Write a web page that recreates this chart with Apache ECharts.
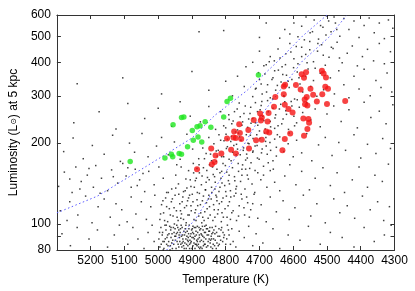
<!DOCTYPE html>
<html><head><meta charset="utf-8">
<script src="https://cdn.jsdelivr.net/npm/echarts@6/dist/echarts.min.js"></script>
<style>html,body{margin:0;padding:0;background:#fff}#c{width:415px;height:291px}</style>
</head><body><div id="c"></div>
<script>
// Temperature axis (K), reversed
const tempMin = 4300, tempMax = 5300, tempStep = 100;
// Luminosity axis ticks (log scale)
const lumTicks = [80, 90, 100, 200, 300, 400, 500, 600];
const lumLabels = [80, 100, 200, 300, 400, 500, 600];

// Field stars [T, L]
const fieldStars = [
[4995,82],[4988,91],[4982,86],[4977,95],[4971,83],[4966,98],[4962,89],[4958,81],[4953,93],[4949,87],[4945,99],[4941,84],[4938,91],[4934,96],[4930,82],[4927,88],[4924,94],[4921,85],[4918,99],[4915,90],[4912,83],[4909,96],[4906,87],[4903,92],[4900,81],[4897,98],[4894,85],[4891,90],[4888,94],[4885,83],[4882,88],[4879,97],[4876,86],[4873,92],[4870,81],[4867,95],[4864,89],[4861,84],[4858,99],[4855,91],[4852,86],[4848,94],[4844,82],[4840,97],[4836,88],[4832,92],[4826,85],[4820,96],
[4992,97],[4985,80],[4974,89],[4968,92],[4960,85],[4955,97],[4947,81],[4943,93],[4936,86],[4932,99],[4925,83],[4919,93],[4913,87],[4907,81],[4901,95],[4896,89],[4890,84],[4884,98],[4878,91],[4872,87],[4866,83],[4860,93],[4854,96],[4849,88],[4843,90],[4837,84],[4830,98],[4823,90],[4815,87],[4808,93],
[4998,88],[4980,99],[4964,83],[4951,90],[4939,95],[4928,91],[4917,81],[4910,92],[4904,85],[4898,93],[4893,97],[4886,87],[4880,82],[4874,96],[4868,90],[4862,98],[4857,82],[4846,85],[4838,93],[4828,81],[4812,97],[4800,84],[4790,91],[4782,96],
[4991,84],[4987,93],[4983,81],[4979,88],[4976,99],[4972,91],[4969,86],[4965,80],[4963,95],[4959,92],[4957,87],[4954,84],[4950,96],[4948,90],[4944,86],[4942,97],[4939,82],[4937,89],[4935,93],[4933,84],[4931,90],[4929,97],[4926,86],[4923,81],[4922,91],[4920,96],[4918,88],[4916,84],[4914,94],[4911,89],[4908,99],[4907,84],[4905,90],[4902,86],[4899,96],[4897,83],[4895,92],[4893,88],[4891,81],[4889,97],[4887,91],[4884,86],[4883,93],[4881,84],[4878,89],[4877,95],[4874,82],[4871,91],[4869,98],[4866,86],[4863,93],[4859,88],[4857,96],[4853,83],[4851,91],[4847,97],[4845,87],[4841,92],[4839,81],[4835,95],[4831,87],[4827,93],[4822,83],[4818,90],[4814,95],[4809,86],[4804,91],[4797,88],[4792,95],[4786,84],
[4996,93],[4986,86],[4975,84],[4962,97],[4946,92],[4929,85],[4911,86],[4900,89],[4887,84],[4877,81],[4863,84],[4850,94],[4842,88],[4833,83],[4819,84],[4806,89],
[5090,84],[5075,97],[5060,88],[5042,81],[5030,93],[5018,99],[5012,86],
[5285,92],[5260,83],[5240,97],[5205,88],[5180,95],[5150,82],[5130,91],[5115,99],
[4795,99],[4778,86],[4770,82],[4760,94],[4745,89],[4732,98],[4720,83],[4710,92],
[4690,85],[4660,96],[4640,81],[4615,91],[4580,87],[4555,98],[4520,84],[4490,93],[4455,89],[4420,82],[4390,97],[4360,86],[4330,91],[4310,99],
[4995,104],[4990,118],[4984,110],[4978,125],[4972,102],[4967,114],[4961,121],[4956,107],[4950,128],[4946,112],[4941,103],[4936,119],[4931,109],[4927,126],[4922,115],[4917,101],[4913,122],[4908,108],[4903,117],[4899,129],[4894,104],[4889,113],[4885,123],[4880,107],[4875,118],[4871,101],[4866,127],[4862,111],[4857,120],[4852,105],[4848,116],[4843,124],[4838,103],[4834,113],[4829,128],[4824,109],[4819,119],[4813,102],[4808,125],[4802,114],[4796,106],[4789,121],[4782,110],[4775,127],[4768,103],[4760,117],[4752,124],[4744,108],[4735,120],[4726,113],[4716,129],[4705,105],
[4952,100],[4933,105],[4910,125],[4891,110],[4868,106],[4850,128],[4826,122],[4811,110],[4798,127],[4786,104],
[4993,109],[4986,122],[4981,103],[4975,116],[4970,131],[4964,108],[4958,124],[4953,115],[4948,136],[4944,106],[4939,129],[4934,112],[4929,121],[4925,104],[4920,133],[4916,117],[4912,108],[4907,128],[4902,112],[4897,121],[4893,137],[4888,103],[4883,117],[4878,130],[4874,110],[4869,122],[4864,103],[4860,134],[4855,114],[4851,124],[4846,108],[4841,131],[4836,118],[4832,106],[4827,126],[4822,113],[4817,137],[4812,121],[4807,106],[4800,132],[4793,117],[4785,126],[4778,112],[4770,135],[4762,107],[4754,129],[4746,115],[4738,126],[4730,106],[4720,119],
[5290,112],[5270,103],[5262,121],[5238,108],[5215,127],[5196,101],[5178,116],[5160,124],[5142,106],[5125,119],[5108,113],[5092,102],[5080,126],[5066,109],[5050,121],[5035,104],[5022,116],[5010,128],
[4695,118],[4680,102],[4668,126],[4650,111],[4630,122],[4612,104],[4595,115],[4570,128],[4548,107],[4530,119],[4505,101],[4480,124],[4462,110],[4440,117],[4418,105],[4395,127],[4372,113],[4350,121],[4332,103],[4315,116],
[4960,135],[4948,152],[4940,141],[4932,163],[4925,132],[4918,147],[4910,158],[4903,138],[4896,168],[4890,145],[4884,131],[4878,155],[4872,140],[4866,162],[4860,134],[4854,149],[4848,166],[4842,137],[4837,153],[4831,143],[4826,160],[4820,132],[4814,148],[4808,168],[4803,139],[4797,156],[4792,145],[4786,133],[4780,162],[4774,150],[4768,138],[4762,157],[4756,144],[4750,166],[4743,135],[4736,152],[4729,161],[4722,141],[4714,131],[4705,155],[4696,146],[4688,164],[4678,137],[4668,158],[4655,143],
[4945,166],[4915,136],[4885,161],[4858,143],[4832,135],[4812,157],[4789,141],[4770,130],[4752,160],[4733,147],
[4905,146],[4895,155],[4887,148],[4879,166],[4870,151],[4863,175],[4856,158],[4849,146],[4845,182],[4839,163],[4833,150],[4828,171],[4822,188],[4817,155],[4811,142],[4806,178],[4801,165],[4795,194],[4790,152],[4784,172],[4779,185],[4773,145],[4768,198],[4763,168],[4757,181],[4752,152],[4747,192],[4741,160],[4736,176],[4731,199],[4725,169],[4719,187],[4713,158],[4707,196],[4701,174],[4694,184],[4688,152],[4682,203],[4674,169],[4667,188],[4659,160],[4650,179],
[5295,138],[5278,156],[5255,131],[5244,163],[5228,144],[5210,152],[5192,137],[5185,165],[5168,148],[5150,133],[5138,159],[5120,142],[5105,168],[5095,151],[5080,137],[5068,160],[5055,146],[5040,132],[5028,157],[5012,140],[4998,163],[4985,148],[4975,131],
[5262,147],[5232,135],[5205,161],[5172,130],[5133,150],[5090,162],[5062,139],[5045,154],
[4640,133],[4625,151],[4610,166],[4592,140],[4575,157],[4552,134],[4535,148],[4512,162],[4490,139],[4470,155],[4448,131],[4425,146],[4405,163],[4380,137],[4358,152],[4336,144],[4318,167],
[4880,175],[4868,192],[4858,183],[4850,210],[4842,172],[4835,199],[4828,187],[4820,215],[4812,178],[4805,204],[4798,191],[4790,174],[4783,212],[4776,196],[4769,181],[4762,218],[4755,205],[4748,188],[4741,173],[4734,200],[4727,214],[4720,185],[4713,195],[4706,176],[4699,208],[4692,190],[4685,218],[4677,182],[4669,201],[4660,172],[4650,193],[4640,211],[4628,186],[4615,199],[4600,178],
[4825,179],[4795,207],[4765,190],[4738,182],[4708,215],[4680,195],[4655,207],
[5280,186],[5252,209],[5222,175],[5195,196],[5160,182],[5135,214],[5112,171],[5085,200],[5070,185],[5048,217],[5030,178],[5005,195],[4990,210],[4970,181],[4952,202],[4935,174],[4915,216],[4898,190],
[4590,205],[4575,184],[4560,217],[4545,172],[4525,197],[4505,210],[4485,180],[4465,201],[4445,188],[4420,215],[4400,176],[4380,198],[4355,183],[4335,208],[4312,191],
[4800,228],[4790,245],[4782,236],[4774,262],[4765,224],[4757,251],[4750,240],[4742,275],[4735,229],[4728,258],[4720,247],[4712,283],[4705,233],[4698,266],[4690,252],[4683,226],[4676,288],[4668,241],[4660,270],[4652,255],[4645,232],[4637,279],[4630,246],[4622,264],[4614,225],[4606,286],[4598,252],[4590,238],[4582,272],[4572,260],[4560,283],[4548,244],[4535,268],
[4760,282],[4725,237],[4695,276],[4655,227],[4625,285],
[4815,205],[4806,232],[4799,216],[4791,255],[4785,203],[4778,242],[4771,220],[4766,268],[4759,211],[4752,233],[4746,258],[4739,215],[4732,246],[4726,272],[4719,208],[4712,238],[4706,262],[4700,222],[4693,286],[4687,243],[4681,210],[4674,262],[4667,230],[4661,292],[4654,248],[4647,215],[4641,268],[4634,236],[4627,298],[4620,256],[4612,218],[4604,275],[4596,232],[4588,290],
[5250,238],[5175,262],[5125,226],[5090,281],[5040,247],[5000,270],[4960,231],[4935,285],[4905,252],[4875,240],[4850,274],[4830,225],[4815,262],
[4520,230],[4500,257],[4480,275],[4458,241],[4435,266],[4410,228],[4390,284],[4370,249],[4345,263],[4325,236],[4305,278],
[4720,298],[4710,320],[4700,345],[4692,305],[4684,362],[4676,330],[4668,295],[4660,350],[4652,315],[4644,374],[4636,338],[4628,300],[4620,358],[4612,322],[4604,345],[4596,292],[4588,368],[4580,332],[4572,310],[4564,355],[4556,378],[4548,325],[4540,342],[4530,299],[4520,364],[4510,316],
[4712,318],[4703,366],[4695,332],[4687,388],[4679,310],[4671,402],[4663,345],[4655,372],[4647,328],[4639,415],[4631,360],[4623,392],[4615,340],[4607,437],[4599,382],[4591,458],[4583,350],[4575,420],[4567,485],[4559,398],[4551,445],[4543,520],[4535,380],[4527,470],[4519,548],[4511,425],[4503,505],[4495,570],[4487,455],[4479,590],[4471,530],[4463,415],
[4745,325],[4765,355],[4780,300],[4800,340],[4850,315],
[5240,333],[5105,350],[4990,305],[4900,370],
[4490,350],[4478,305],[4465,372],[4450,330],[4435,295],[4420,355],[4405,318],[4390,377],[4372,300],[4355,342],[4340,322],[4322,365],[4308,310],
[4680,392],[4668,420],[4656,405],[4645,448],[4633,385],[4622,430],[4610,470],[4598,412],[4586,395],[4575,455],[4563,428],[4551,478],[4540,402],[4528,440],[4516,465],[4505,390],[4494,418],[4482,450],
[4720,400],[4740,385],[4700,440],
[4470,475],[4455,398],[4440,432],[4425,460],[4410,388],[4395,420],[4380,447],[4362,405],[4345,470],[4330,395],[4312,438],
[4640,492],[4625,530],[4610,510],[4598,560],[4586,498],[4575,545],[4562,590],[4550,515],[4538,575],[4525,488],[4512,540],[4500,595],[4488,520],[4475,560],[4462,500],[4450,582],
[4435,530],[4420,570],[4405,495],[4390,548],[4375,585],[4360,515],[4345,560],[4330,490],[4318,575],[4305,535],
[4879,520],[4806,525],[4700,495],[4680,560]
];

// Green sample [T, L]
const greenStars = [
[4703,359],[4786,294],[4796,286],[4924,250],[4931,249],[4806,250],[4861,240],[4956,234],[4876,232],[4885,230],[4844,229],[4899,223],[4882,211],[4896,205],[4871,202],[4913,194],[4961,182],[4957,178],[4938,183],[4931,182],[4980,176],[5083,171]
];

// Red sample [T, L]
const redStars = [
[4575,361],[4562,367],[4568,350],[4515,372],[4510,363],[4503,351],[4624,330],[4628,325],[4592,329],[4578,317],[4549,319],[4505,324],[4497,319],[4653,297],[4628,304],[4560,297],[4566,291],[4541,303],[4514,304],[4446,287],[4530,286],[4657,273],[4625,278],[4565,279],[4558,276],[4500,280],[4614,268],[4602,260],[4673,259],[4698,258],[4693,249],[4717,244],[4676,241],[4696,243],[4570,247],[4555,246],[4553,238],[4760,235],[4733,224],[4775,221],[4758,218],[4680,221],[4671,219],[4558,226],[4609,217],[4568,213],[4777,210],[4770,209],[4796,208],[4754,207],[4710,205],[4693,206],[4625,207],[4731,191],[4784,189],[4843,191],[4813,183],[4770,183],[4830,180],[4833,170],[4841,167],[4885,160],[4632,188]
];

// Dotted model tracks [T, L]
const trackA = [[5300,110],[5180,127],[5035,164],[4900,209],[4832,254],[4737,314],[4639,411],[4573,500],[4500,600]];
const trackB = [[4975,80],[4890,104],[4824,141],[4746,197],[4694,255],[4573,404],[4495,495],[4443,596]];

const FONT = 'Liberation Sans, Arial, Helvetica, sans-serif';
const chart = echarts.init(document.getElementById('c'), null, {renderer: 'canvas'});
const axisLineStyle = {color: '#333', width: 1};
const xCommon = {
  type: 'value', min: tempMin, max: tempMax, interval: tempStep, inverse: true,
  splitLine: {show: false},
  axisLine: {show: true, onZero: false, lineStyle: axisLineStyle},
  axisTick: {show: true, inside: true, length: 4, lineStyle: {color: '#333'}}
};
const yCommon = {
  type: 'log', logBase: 10, min: 80, max: 600,
  splitLine: {show: false}, minorTick: {show: false},
  axisLine: {show: true, onZero: false, lineStyle: axisLineStyle},
  axisTick: {show: true, inside: true, length: 4, customValues: lumTicks, lineStyle: {color: '#333'}}
};
chart.setOption({
  animation: false,
  backgroundColor: '#fff',
  textStyle: {fontFamily: FONT},
  grid: {left: 48, right: 20.5, top: 15, bottom: 37, containLabel: false},
  xAxis: [
    Object.assign({}, xCommon, {
      position: 'bottom',
      name: 'Temperature (K)', nameLocation: 'middle', nameGap: 24,
      nameTextStyle: {fontFamily: FONT, fontSize: 12, color: '#000'},
      axisLabel: {show: true, margin: 5, fontFamily: FONT, fontSize: 12, color: '#000', showMaxLabel: false,
        formatter: function (v) { return String(v); }}
    }),
    Object.assign({}, xCommon, {position: 'top', axisLabel: {show: false}})
  ],
  yAxis: [
    Object.assign({}, yCommon, {
      position: 'left',
      name: 'Luminosity (L{s|⊙}) at 5 kpc', nameLocation: 'middle', nameGap: 28, nameRotate: 90,
      nameTextStyle: {fontFamily: FONT, fontSize: 12, color: '#000', rich: {s: {fontSize: 8, fontFamily: 'DejaVu Sans', color: '#000'}}},
      axisLabel: {show: true, margin: 6, fontFamily: FONT, fontSize: 12, color: '#000', customValues: lumLabels,
        formatter: function (v) { return String(Math.round(v)); }}
    }),
    Object.assign({}, yCommon, {position: 'right', axisLabel: {show: false}})
  ],
  series: [
    {type: 'scatter', data: fieldStars, symbol: 'rect', symbolSize: 1.5, itemStyle: {color: '#111'}, silent: true, z: 1},
    {type: 'line', data: trackA, showSymbol: false, symbol: 'none', lineStyle: {color: '#5a5aff', width: 1, type: [1.5, 2.5]}, z: 2, clip: true},
    {type: 'line', data: trackB, showSymbol: false, symbol: 'none', lineStyle: {color: '#5a5aff', width: 1, type: [1.5, 2.5]}, z: 2, clip: true},
    {type: 'scatter', data: greenStars, symbol: 'circle', symbolSize: 5.5, itemStyle: {color: '#1ee61e'}, z: 3},
    {type: 'scatter', data: redStars, symbol: 'circle', symbolSize: 6, itemStyle: {color: '#f51414'}, z: 4}
  ]
});
</script>
</body></html>
